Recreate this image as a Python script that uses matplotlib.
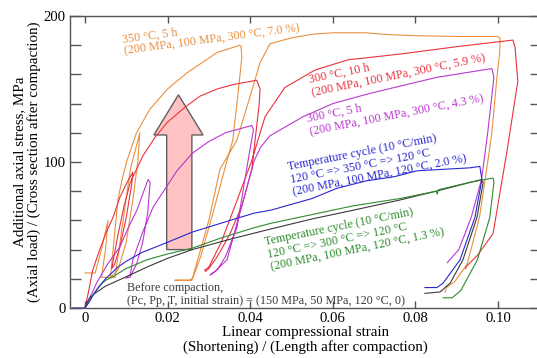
import math
import matplotlib
matplotlib.use("Agg")
import matplotlib.pyplot as plt
from matplotlib.ticker import MultipleLocator, FixedLocator, FixedFormatter
from matplotlib.patches import Polygon

# ---------------- data (strain, stress MPa) ----------------
orange_x = [0.0000, 0.0025, 0.0040, 0.0056, 0.0050, 0.0040, 0.0073, 0.0090, 0.0110, 0.0133,
            0.0128, 0.0116, 0.0100, 0.0080, 0.0062, 0.0070, 0.0080, 0.0090, 0.0102, 0.0125,
            0.0157, 0.0200, 0.0247, 0.0320, 0.0375, 0.0378, 0.0380, 0.0370, 0.0358, 0.0344,
            0.0310, 0.0280, 0.0262, 0.0255, 0.0218, 0.0259, 0.0270, 0.0300, 0.0327, 0.0368,
            0.0400, 0.0424, 0.0448, 0.0500, 0.0550, 0.0600, 0.0680, 0.0720, 0.0800, 0.0900,
            0.0998, 0.1005, 0.1004, 0.0998, 0.0985, 0.0975, 0.0955, 0.0925, 0.0895, 0.0875,
            0.0872]
orange_y = [24, 24, 40, 60, 40, 21, 21, 55, 95, 120,
            100, 74, 45, 26, 21, 45, 74, 88, 101, 120,
            136, 150, 161, 175, 180, 179, 172, 145, 115, 101,
            65, 35, 21, 19, 19, 19, 30, 60, 95, 115,
            145, 168, 181, 185, 187.5, 188.5, 188.5, 187.5, 186.5, 186,
            186, 185, 175, 160, 120, 100, 62, 30, 18, 14,
            11]

red_x = [0.0000, 0.0008, 0.0019, 0.0036, 0.0052, 0.0068, 0.0085, 0.0102, 0.0116, 0.0113,
         0.0100, 0.0085, 0.0072, 0.0065, 0.0080, 0.0095, 0.0110, 0.0140, 0.0170, 0.0199,
         0.0240, 0.0278, 0.0320, 0.0358, 0.0416, 0.0424, 0.0422, 0.0404, 0.0380, 0.0350,
         0.0320, 0.0300, 0.0292, 0.0290, 0.0300, 0.0330, 0.0370, 0.0404, 0.0436, 0.0484,
         0.0557, 0.0637, 0.0765, 0.0900, 0.1036, 0.1041, 0.1048, 0.1045, 0.1022, 0.0988,
         0.0950, 0.0925, 0.0921]
red_y = [0, 10, 26, 40, 52, 62, 76, 86, 93, 84,
         62, 42, 30, 27, 50, 70, 86, 104, 117, 127,
         137, 145, 150, 153, 156, 150, 140, 95, 70, 50,
         35, 27, 25, 26, 28, 45, 75, 101, 131, 151,
         163, 170, 174, 179, 183.5, 179, 155, 150, 108, 51,
         36, 29, 27]

magenta_x = [0.0000, 0.0010, 0.0030, 0.0055, 0.0085, 0.0105, 0.0126, 0.0140, 0.0153, 0.0158,
             0.0152, 0.0140, 0.0125, 0.0109, 0.0099, 0.0110, 0.0116, 0.0140, 0.0165, 0.0223,
             0.0260, 0.0300, 0.0340, 0.0404, 0.0408, 0.0395, 0.0368, 0.0340, 0.0320, 0.0310,
             0.0303, 0.0315, 0.0344, 0.0380, 0.0410, 0.0425, 0.0448, 0.0528, 0.0600, 0.0690,
             0.0852, 0.0985, 0.0990, 0.0975, 0.0960, 0.0935, 0.0905, 0.0877]
magenta_y = [0, 6, 18, 30, 42, 55, 67, 78, 88, 86,
             65, 45, 30, 21, 20.5, 23, 33, 52, 69, 94,
             106, 114, 120, 125, 122, 101, 55, 35, 26, 24,
             22.6, 25, 33, 70, 101, 110, 118, 131, 140, 147,
             158, 164, 158, 120, 88, 62, 40, 31]

blue_x = [-0.0030, 0.0000, 0.0010, 0.0020, 0.0035, 0.0050, 0.0065, 0.0080, 0.0100, 0.0138,
          0.0200, 0.0260, 0.0340, 0.0410, 0.0450, 0.0500, 0.0550, 0.0610, 0.0680, 0.0750,
          0.0804, 0.0932, 0.0956, 0.0961, 0.0944, 0.0908, 0.0867, 0.0852, 0.0823]
blue_y = [0, 0, 4, 9, 15, 20, 24, 28, 32, 38,
          45, 52, 59, 65, 67, 71, 75, 82, 87, 90,
          94, 96, 97, 88, 62, 33, 17, 14, 14]

green_x = [0.0000, 0.0010, 0.0020, 0.0035, 0.0050, 0.0065, 0.0100, 0.0150, 0.0200, 0.0260,
           0.0330, 0.0410, 0.0450, 0.0550, 0.0650, 0.0763, 0.0850, 0.0853, 0.0856, 0.0930,
           0.0988, 0.0990, 0.0980, 0.0950, 0.0910, 0.0889, 0.0867]
green_y = [0, 4, 9, 15, 19, 21, 27, 33, 37, 41,
           48, 55, 58, 64, 70, 75, 80, 78, 81, 86,
           89, 86, 62, 33, 12, 7, 7]

black_x = [0.0000, 0.0005, 0.0012, 0.0024, 0.0050, 0.0097, 0.0150, 0.0200, 0.0260, 0.0350,
           0.0448, 0.0550, 0.0650, 0.0763, 0.0850, 0.0960, 0.0964, 0.0949, 0.0915, 0.0884,
           0.0860, 0.0823]
black_y = [0, 4, 7, 10, 15, 21, 28, 34, 40, 47,
           54, 61, 67, 74, 80, 88, 86, 62, 33, 17,
           11, 10]

# pink arrow (strain, stress)
arrow_shaft = (0.0198, 0.0259)
arrow_wings = (0.0167, 0.0286)
arrow_levels = (40, 118.5, 146)

x_ticks = [0, 0.02, 0.04, 0.06, 0.08, 0.10]
x_ticklabels = ["0", "0.02", "0.04", "0.06", "0.08", "0.10"]
y_ticks = [0, 100, 200]
y_ticklabels = ["0", "100", "200"]

labels = {
    "orange": ["350 \u00b0C, 5 h", "(200 MPa, 100 MPa, 300 \u00b0C, 7.0 %)"],
    "red": ["300 \u00b0C, 10 h", "(200 MPa, 100 MPa, 300 \u00b0C, 5.9 %)"],
    "magenta": ["300 \u00b0C, 5 h", "(200 MPa, 100 MPa, 300 \u00b0C, 4.3 %)"],
    "blue": ["Temperature cycle (10 \u00b0C/min)", "120 \u00b0C => 350 \u00b0C => 120 \u00b0C",
             "(200 MPa, 100 MPa, 120 \u00b0C, 2.0 %)"],
    "green": ["Temperature cycle (10 \u00b0C/min)", "120 \u00b0C => 300 \u00b0C => 120 \u00b0C",
              "(200 MPa, 100 MPa, 120 \u00b0C, 1.3 %)"],
    "black": ["Before compaction,",
              "(Pc, Pp, T, initial strain) = (150 MPa, 50 MPa, 120 \u00b0C, 0)"],
}

colors = {
    "orange": "#e8903f",
    "red": "#e8333f",
    "magenta": "#bb38d0",
    "blue": "#2828d0",
    "green": "#2e8b2e",
    "black": "#3a3a3a",
}

# ---------------- figure ----------------
plt.rcParams["font.family"] = ["Liberation Serif", "DejaVu Serif"]
W, H = 537, 358
fig = plt.figure(figsize=(W / 100, H / 100), dpi=100)
ax = fig.add_axes([70 / W, 1 - 308 / H, 471 / W, 292 / H])
ax.set_xlim(-0.0036, 0.1104)
ax.set_ylim(0, 200)

series = [
    ("orange", orange_x, orange_y),
    ("red", red_x, red_y),
    ("magenta", magenta_x, magenta_y),
    ("black", black_x, black_y),
    ("green", green_x, green_y),
    ("blue", blue_x, blue_y),
]
for name, xs, ys in series:
    ax.plot(xs, ys, color=colors[name], lw=0.8, zorder=3, solid_joinstyle="round")

# arrow
xa0, xa1 = arrow_shaft
xw0, xw1 = arrow_wings
yb, yh, yt = arrow_levels
xc = (xw0 + xw1) / 2
poly = Polygon([(xa0, yb), (xa1, yb), (xa1, yh), (xw1, yh), (xc, yt), (xw0, yh), (xa0, yh)],
               closed=True, facecolor="#ffc3c3", edgecolor="#606060", lw=1.0, zorder=2)
ax.add_patch(poly)

# annotations (anchor = baseline start of first line)
ann = [
    ("orange", 0.0092, 182.0, 7.5, 9.0),
    ("red", 0.0545, 154.1, 11.5, 9.8),
    ("magenta", 0.0540, 127.4, 11.0, 9.8),
    ("blue", 0.0492, 94.5, 11.0, 9.3),
    ("green", 0.0438, 43.2, 11.5, 9.3),
    ("black", 0.0102, 11.6, 0.0, 9.0),
]
for name, tx, ty, rot, ls in ann:
    r = math.radians(rot)
    for i, line in enumerate(labels[name]):
        dx = i * ls * math.sin(r)
        dy = -i * ls * math.cos(r)
        ax.annotate(line, xy=(tx, ty), xytext=(dx, dy), textcoords="offset points",
                    color=colors[name], fontsize=8.7, rotation=rot,
                    rotation_mode="anchor", ha="left", va="baseline", zorder=4,
                    annotation_clip=False)

# axes styling
for sp in ax.spines.values():
    sp.set_color("#555555")
    sp.set_linewidth(1.0)
ax.xaxis.set_major_locator(FixedLocator(x_ticks))
ax.xaxis.set_major_formatter(FixedFormatter(x_ticklabels))
ax.yaxis.set_major_locator(FixedLocator(y_ticks))
ax.yaxis.set_major_formatter(FixedFormatter(y_ticklabels))
ax.yaxis.set_minor_locator(MultipleLocator(20))
ax.tick_params(axis="x", which="major", direction="in", top=True, bottom=True, length=5,
               width=1.0, color="#555555", labelsize=10.6, pad=3)
ax.tick_params(axis="y", which="both", direction="in", left=True, right=True, length=8,
               width=1.0, color="#555555", labelsize=10.6, pad=3)

fig.text((70 + 541) / 2 / W, 1 - 340 / H,
         "Linear compressional strain\n(Shortening) / (Length after compaction)",
         ha="center", va="center", fontsize=10.8, linespacing=1.15)
fig.text(27 / W, 1 - 162 / H,
         "Additional axial stress, MPa\n(Axial load) / (Cross section after compaction)",
         ha="center", va="center", rotation=90, fontsize=10.8, linespacing=1.15)

fig.savefig("out.png", dpi=100)
